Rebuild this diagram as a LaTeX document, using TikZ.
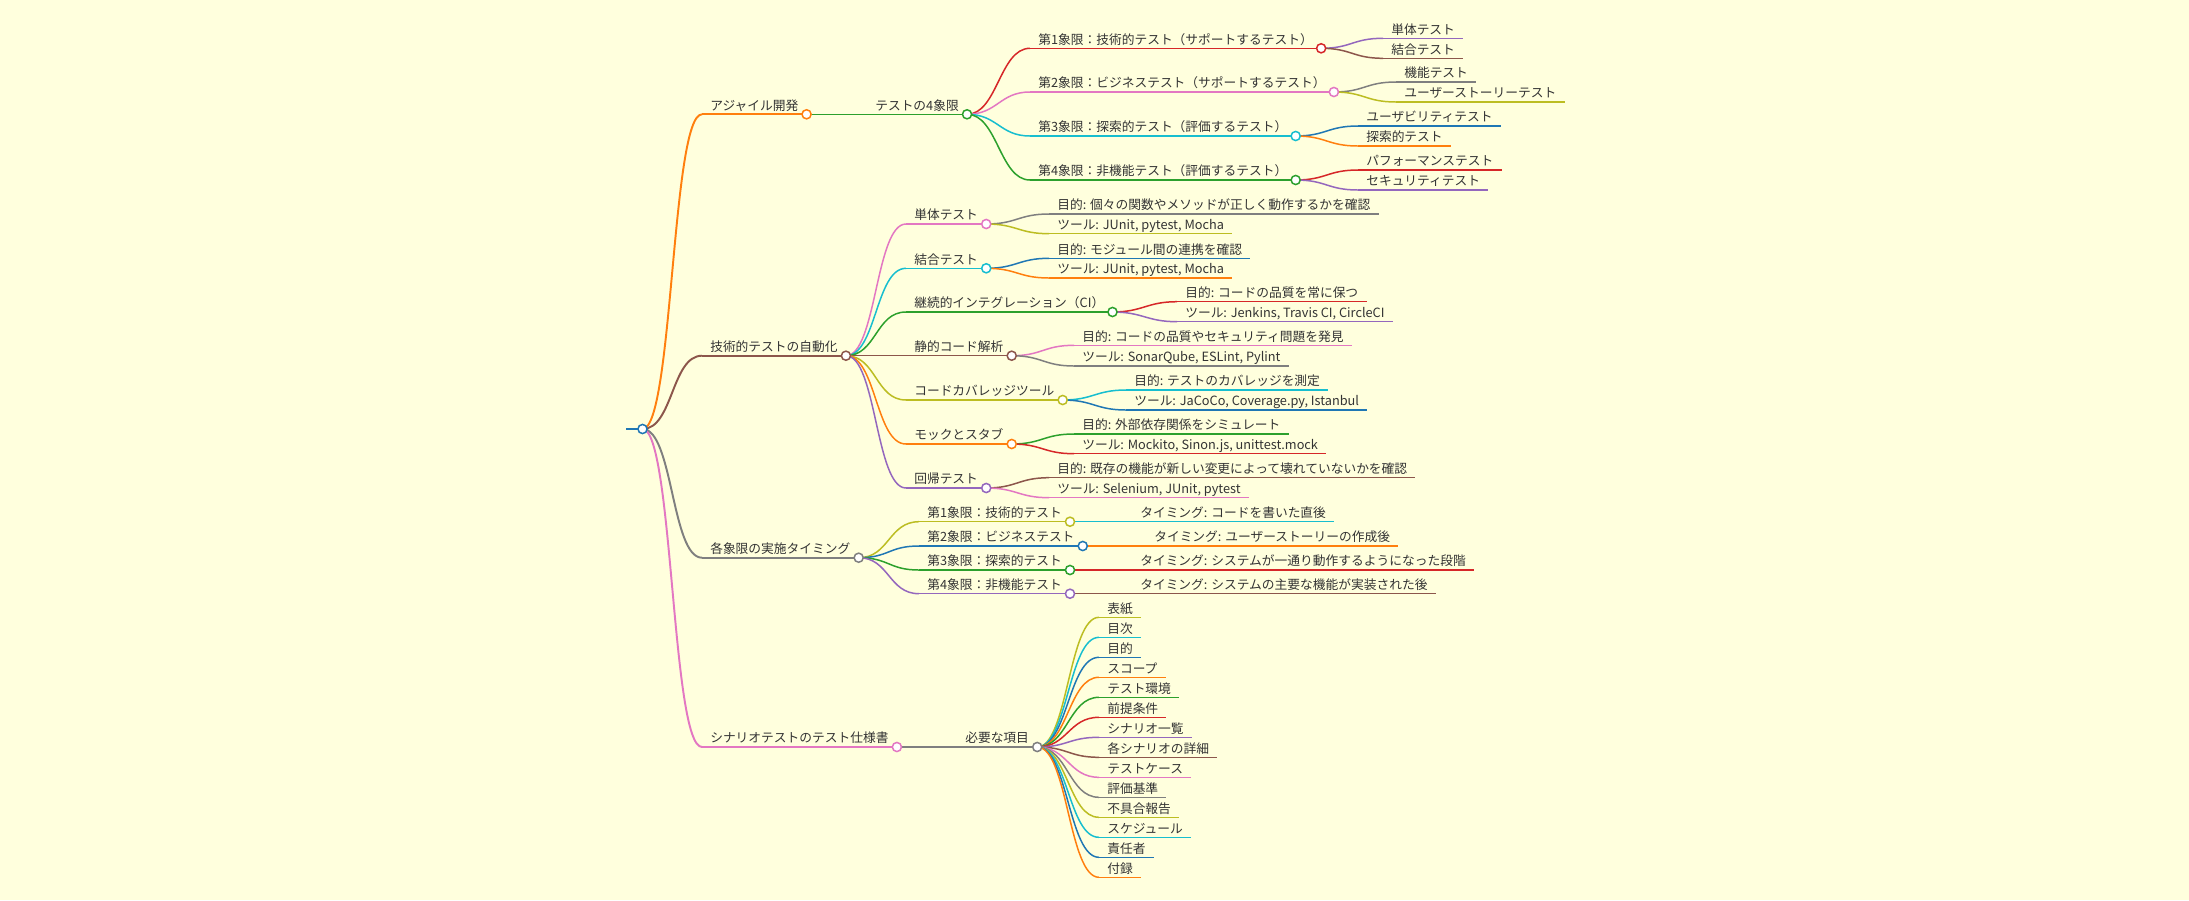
\documentclass[tikz,border=0pt]{standalone}
\usepackage{fontspec}
\newfontfamily\jpfont{Noto Sans CJK JP}
\usetikzlibrary{calc}
\definecolor{mmblue}{HTML}{1F77B4}
\definecolor{mmorange}{HTML}{FF7F0E}
\definecolor{mmgreen}{HTML}{2CA02C}
\definecolor{mmred}{HTML}{D62728}
\definecolor{mmpurple}{HTML}{9467BD}
\definecolor{mmbrown}{HTML}{8C564B}
\definecolor{mmpink}{HTML}{E377C2}
\definecolor{mmgray}{HTML}{7F7F7F}
\definecolor{mmolive}{HTML}{BCBD22}
\definecolor{mmcyan}{HTML}{17BECF}
\definecolor{mmbg}{RGB}{255,255,221}
\definecolor{mmtext}{RGB}{51,51,51}
\tikzset{
  item/.style={anchor=south west,inner xsep=4.5pt,inner ysep=2.2pt,text depth=0pt,text=mmtext,font=\jpfont\fontsize{7.25pt}{8.5pt}\selectfont},
  branch/.style={draw=#1,line width=0.85pt},
  trunk/.style={draw=#1,line width=1.1pt},
  dot/.style={circle,draw=#1,fill=white,line width=0.85pt,inner sep=0pt,minimum size=5.2pt}
}

\begin{document}
\begin{tikzpicture}[x=0.2mm,y=-0.2mm]
  \fill[mmbg] (0,0) rectangle (2189,900);
  \node[item] (root) at (626,429) {};
  \draw[mmblue,line width=1.6pt] (root.south west) -- (root.south east);
  \foreach \n/\col/\y/\txt in {agile/mmorange/114.3/アジャイル開発,auto/mmbrown/355.7/技術的テストの自動化,timing/mmgray/557.7/各象限の実施タイミング,spec/mmpink/747/シナリオテストのテスト仕様書} {
    \node[item] (\n) at (702,\y) {\txt};
    \draw[trunk=\col] (\n.south west) -- (\n.south east);
    \draw[trunk=\col] (root.south east) .. controls +(30.5,0) and +(-30.5,0) .. (\n.south west);
  }
  \foreach \p/\n/\col/\x/\y/\txt in {
      agile/four/mmgreen/867/114.3/テストの4象限,
      four/q1/mmred/1030/48.3/第1象限：技術的テスト（サポートするテスト）,
      q1/q1a/mmpurple/1383/38.3/単体テスト,
      q1/q1b/mmbrown/1383/58.3/結合テスト,
      four/q2/mmpink/1030/92/第2象限：ビジネステスト（サポートするテスト）,
      q2/q2a/mmgray/1396/82/機能テスト,
      q2/q2b/mmolive/1396/102/ユーザーストーリーテスト,
      four/q3/mmcyan/1030/136/第3象限：探索的テスト（評価するテスト）,
      q3/q3a/mmblue/1358/126/ユーザビリティテスト,
      q3/q3b/mmorange/1358/146/探索的テスト,
      four/q4/mmgreen/1030/180/第4象限：非機能テスト（評価するテスト）,
      q4/q4a/mmred/1358/170/パフォーマンステスト,
      q4/q4b/mmpurple/1358/190/セキュリティテスト,
      auto/unit/mmpink/906/224/単体テスト,
      unit/unita/mmgray/1049/214/目的: 個々の関数やメソッドが正しく動作するかを確認,
      unit/unitb/mmolive/1049/233.7/{ツール: JUnit, pytest, Mocha},
      auto/integ/mmcyan/906/268.3/結合テスト,
      integ/intega/mmblue/1049/258.3/目的: モジュール間の連携を確認,
      integ/integb/mmorange/1049/278/{ツール: JUnit, pytest, Mocha},
      auto/ci/mmgreen/906/312/継続的インテグレーション（CI）,
      ci/cia/mmred/1177/301.7/目的: コードの品質を常に保つ,
      ci/cib/mmpurple/1177/321.7/{ツール: Jenkins, Travis CI, CircleCI},
      auto/lint/mmbrown/906/355.7/静的コード解析,
      lint/linta/mmpink/1074/345.3/目的: コードの品質やセキュリティ問題を発見,
      lint/lintb/mmgray/1074/366/{ツール: SonarQube, ESLint, Pylint},
      auto/cov/mmolive/906/400/コードカバレッジツール,
      cov/cova/mmcyan/1126/390/目的: テストのカバレッジを測定,
      cov/covb/mmblue/1126/410/{ツール: JaCoCo, Coverage.py, Istanbul},
      auto/mock/mmorange/906/444/モックとスタブ,
      mock/mocka/mmgreen/1074/434/目的: 外部依存関係をシミュレート,
      mock/mockb/mmred/1074/453.7/{ツール: Mockito, Sinon.js, unittest.mock},
      auto/reg/mmpurple/906/488/回帰テスト,
      reg/rega/mmbrown/1049/477.7/目的: 既存の機能が新しい変更によって壊れていないかを確認,
      reg/regb/mmpink/1049/497.7/{ツール: Selenium, JUnit, pytest},
      timing/t1/mmolive/919/521.7/第1象限：技術的テスト,
      t1/t1a/mmcyan/1132/521.7/タイミング: コードを書いた直後,
      timing/t2/mmblue/919/546/第2象限：ビジネステスト,
      t2/t2a/mmorange/1146/546/タイミング: ユーザーストーリーの作成後,
      timing/t3/mmgreen/919/570/第3象限：探索的テスト,
      t3/t3a/mmred/1132/570/タイミング: システムが一通り動作するようになった段階,
      timing/t4/mmpurple/919/593.7/第4象限：非機能テスト,
      t4/t4a/mmbrown/1132/593.7/タイミング: システムの主要な機能が実装された後,
      spec/need/mmgray/957/747/必要な項目} {
    \node[item] (\n) at (\x,\y) {\txt};
    \draw[branch=\col] (\n.south west) -- (\n.south east);
    \draw[branch=\col] (\p.south east) .. controls +(30.5,0) and +(-30.5,0) .. (\n.south west);
  }
  \foreach \txt/\col [count=\i from 0] in {表紙/mmolive,目次/mmcyan,目的/mmblue,スコープ/mmorange,テスト環境/mmgreen,前提条件/mmred,シナリオ一覧/mmpurple,各シナリオの詳細/mmbrown,テストケース/mmpink,評価基準/mmgray,不具合報告/mmolive,スケジュール/mmcyan,責任者/mmblue,付録/mmorange} {
    \node[item] (part\i) at (1099,{617.3+20*\i}) {\txt};
    \draw[branch=\col] (part\i.south west) -- (part\i.south east);
    \draw[branch=\col] (need.south east) .. controls +(30.5,0) and +(-30.5,0) .. (part\i.south west);
  }
  \foreach \n/\col in {root/mmblue,agile/mmorange,four/mmgreen,q1/mmred,q2/mmpink,q3/mmcyan,q4/mmgreen,auto/mmbrown,unit/mmpink,integ/mmcyan,ci/mmgreen,lint/mmbrown,cov/mmolive,mock/mmorange,reg/mmpurple,timing/mmgray,t1/mmolive,t2/mmblue,t3/mmgreen,t4/mmpurple,spec/mmpink,need/mmgray}
    \node[dot=\col] (\n-c) at (\n.south east) {};
\end{tikzpicture}
\end{document}
